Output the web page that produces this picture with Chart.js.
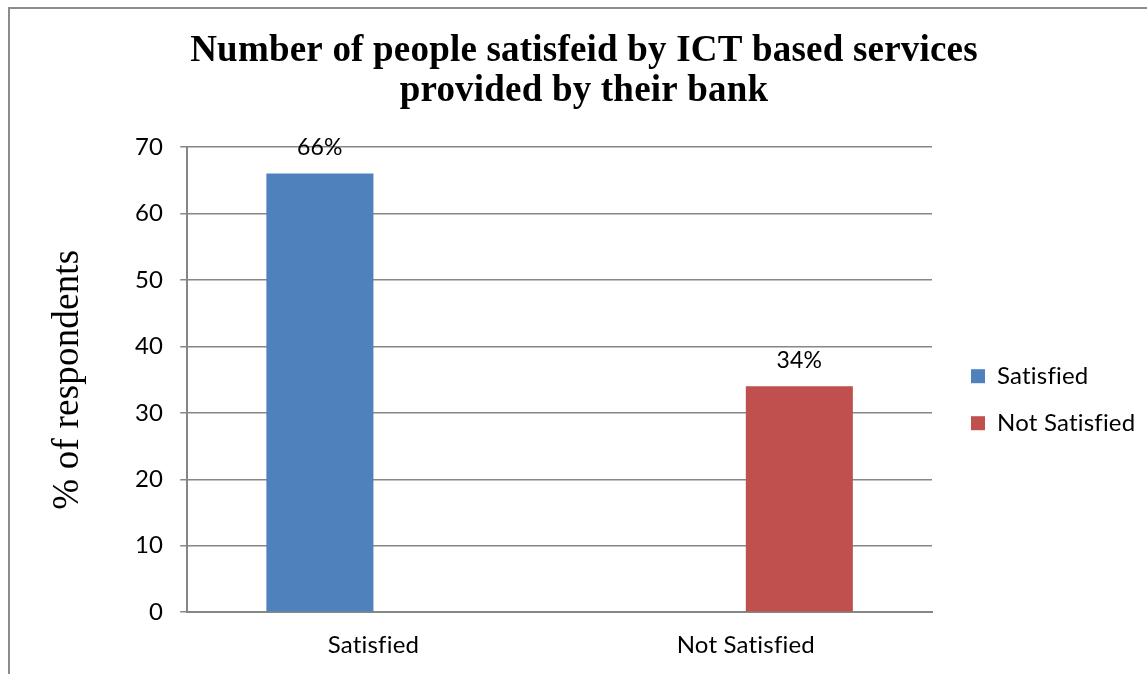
<!DOCTYPE html>
<html>
<head>
<meta charset="utf-8">
<script src="https://cdn.jsdelivr.net/npm/chart.js@4.4.1/dist/chart.umd.min.js"></script>
<style>
  html, body { margin: 0; padding: 0; background: #fff; overflow: hidden; }
  #frame { position: absolute; left: 8px; top: 7px; width: 1200px; height: 700px;
           border-left: 2px solid #8c8c8c; border-top: 2px solid #8c8c8c; }
  #bar-chart { position: absolute; left: 0; top: 0; }
</style>
</head>
<body>
<div id="frame"></div>
<canvas id="bar-chart" width="1168" height="674"></canvas>
<script>
const categories = ["Satisfied", "Not Satisfied"];
const satisfied = [66, null];
const notSatisfied = [null, 34];
const yTicks = [0, 10, 20, 30, 40, 50, 60, 70];

const sans = "Lato";
const serif = "'Liberation Serif', 'Times New Roman', serif";

// no "fi" ligatures in the sans labels
const plainText = {
  id: "plainText",
  beforeDraw(chart) {
    chart.ctx.letterSpacing = "0.2px";
    chart.ctx.textRendering = "optimizeSpeed";
  },
  // unligated text is a bit wider than measured, so let the legend run to the canvas edge
  afterLayout(chart) {
    chart.legend.right = chart.width;
    chart.legend.width = chart.width - chart.legend.left;
  },
};

// prints "NN%" above each bar
const barLabels = {
  id: "barLabels",
  afterDatasetsDraw(chart) {
    const ctx = chart.ctx;
    ctx.save();
    ctx.font = "23px " + sans;
    ctx.fillStyle = "#000";
    ctx.textAlign = "center";
    ctx.textBaseline = "middle";
    chart.data.datasets.forEach((ds, i) => {
      chart.getDatasetMeta(i).data.forEach((bar, j) => {
        if (ds.data[j] == null) return;
        ctx.fillText(ds.data[j] + "%", bar.x, bar.y - 26);
      });
    });
    ctx.restore();
  }
};

var config = {
  type: "bar",
  data: {
    labels: categories,
    datasets: [
      {
        label: "Satisfied",
        backgroundColor: "#4f81bd",
        borderWidth: 0,
        data: satisfied,
      },
      {
        label: "Not Satisfied",
        backgroundColor: "#c0504d",
        borderWidth: 0,
        data: notSatisfied,
      },
    ],
  },
  options: {
    responsive: false,
    animation: false,
    categoryPercentage: 0.575,
    barPercentage: 1,
    layout: { padding: { left: 38, right: 38, top: 0, bottom: 3 } },
    plugins: {
      title: {
        display: true,
        text: ["Number of people satisfeid by ICT based services", "provided by their bank"],
        color: "#000",
        font: { family: serif, size: 37, weight: "bold", lineHeight: 1.081 },
        padding: { top: 31, bottom: 36 },
      },
      legend: {
        position: "right",
        title: { display: true, text: "", padding: { top: 114, bottom: 0 } },
        labels: {
          color: "#000",
          font: { family: sans, size: 24 },
          boxWidth: 14,
          boxHeight: 14,
          padding: 23,
        },
      },
      tooltip: { enabled: false },
    },
    scales: {
      x: {
        grid: { display: false },
        border: { display: true, color: "#868686", width: 2 },
        ticks: { color: "#000", font: { family: sans, size: 24 }, padding: 11 },
      },
      y: {
        min: 0,
        max: 70,
        afterBuildTicks: (axis) => { axis.ticks = yTicks.map((v) => ({ value: v })); },
        grid: { color: "#868686", lineWidth: 1.5, tickLength: 7 },
        border: { color: "#868686", width: 2 },
        ticks: { color: "#000", font: { family: sans, size: 24 }, padding: 17 },
        title: {
          display: true,
          text: "% of respondents",
          color: "#000",
          font: { family: serif, size: 37 },
          padding: { top: 8, bottom: 28 },
        },
      },
      // empty strip between the plot and the legend
      gap: {
        position: "right",
        grid: { display: false },
        border: { display: false },
        ticks: { display: false },
        afterFit: (axis) => { axis.width = 16; },
      },
    },
  },
  plugins: [plainText, barLabels],
};

var ctx = document.getElementById("bar-chart").getContext("2d");
window.myBar = new Chart(ctx, config);
</script>
</body>
</html>
